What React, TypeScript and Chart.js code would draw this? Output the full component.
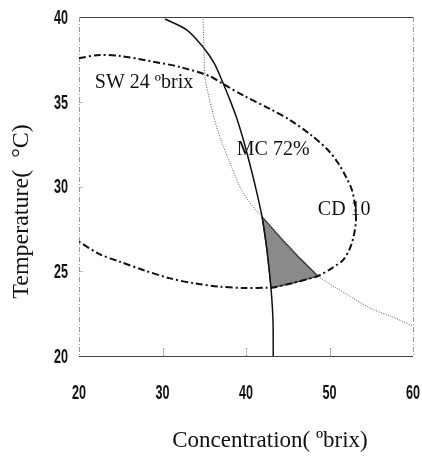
import React, { useEffect, useRef } from "react";
import { Chart, registerables } from "chart.js";
Chart.register(...registerables);

// Axis ticks
const xTicks = [20, 30, 40, 50, 60];
const yTicks = [20, 25, 30, 35, 40];

// MC 72% (solid)
const mcConc = [30.3, 32.93, 34.85, 36.17, 37.25, 38.08, 38.8, 39.52, 40.24, 41.08, 41.92, 42.51, 42.99, 43.23, 43.26];
const mcTemp = [39.88, 39.23, 38.23, 37.29, 36.11, 35.1, 34.16, 33.04, 31.74, 30.09, 28.22, 26.25, 24.01, 22.12, 20.0];

// CD 10 (dotted)
const cdConc = [34.85, 34.97, 35.09, 35.45, 35.93, 36.53, 37.13, 38.08, 39.28, 40.48, 41.92, 45.0, 48.62, 51.26, 54.85, 57.25, 60.0];
const cdTemp = [40.0, 38.05, 36.46, 35.52, 34.51, 33.45, 32.57, 31.39, 29.97, 29.03, 28.22, 26.4, 24.72, 23.89, 22.83, 22.36, 21.77];

// SW 24 obrix (dash-dot, closed contour)
const swConc = [20, 22.5, 24.9, 28.5, 32.1, 35.7, 37.25, 39.8, 42.9, 45.27, 47.78, 49.82, 51.02, 51.98, 52.69, 53.05, 53.17, 52.93, 52.46, 51.62, 50.3, 48.62, 47.07, 45.6, 43.0, 42.5, 39.9, 36.89, 33.9, 30.9, 27.9, 24.91, 22.5, 20];
const swTemp = [37.58, 37.76, 37.7, 37.4, 37.05, 36.5, 36.05, 35.34, 34.57, 33.92, 33.04, 32.15, 31.39, 30.56, 29.79, 28.91, 28.02, 27.14, 26.37, 25.66, 25.19, 24.72, 24.5, 24.3, 24.02, 24.03, 24.01, 24.09, 24.28, 24.58, 25.04, 25.56, 26.0, 26.74];

// Feasible (shaded) region
const shadeConc = [41.92, 42.51, 43.0, 45.6, 47.07, 48.62, 46.5, 44.2, 41.92];
const shadeTemp = [28.22, 26.25, 24.02, 24.3, 24.5, 24.72, 25.75, 26.95, 28.22];

// Curve labels (data coordinates of text baseline start)
const labelTexts = ["SW 24 ºbrix", "MC 72%", "CD 10"];
const labelConc = [21.9, 38.9, 48.6];
const labelTemp = [35.8, 31.86, 28.3];

const xTitle = "Concentration( ºbrix)";
const yTitle = "Temperature(  °C)";

const toPts = (xs: number[], ys: number[]) => xs.map((x, i) => ({ x, y: ys[i] }));

const serif = "'Liberation Serif', 'Times New Roman', serif";
const tickFont = "bold 21px 'Liberation Sans', Arial, sans-serif";
const squeeze = 0.6;

const overlay = {
  id: "overlay",
  beforeDatasetsDraw(chart: any) {
    const { ctx, chartArea } = chart;
    const { left, right, top, bottom } = chartArea;
    const xs = chart.scales.x;
    const ys = chart.scales.y;
    ctx.save();
    ctx.lineWidth = 1;
    ctx.strokeStyle = "#444";
    ctx.setLineDash([]);
    ctx.beginPath();
    ctx.moveTo(left, top + 0.5);
    ctx.lineTo(right, top + 0.5);
    ctx.moveTo(left, bottom + 0.5);
    ctx.lineTo(right, bottom + 0.5);
    ctx.stroke();
    ctx.strokeStyle = "#999";
    ctx.setLineDash([5, 2, 1, 2]);
    ctx.beginPath();
    ctx.moveTo(left + 0.5, top);
    ctx.lineTo(left + 0.5, bottom);
    ctx.moveTo(right + 0.5, top);
    ctx.lineTo(right + 0.5, bottom);
    ctx.stroke();
    ctx.setLineDash([2, 1]);
    ctx.beginPath();
    xTicks.slice(1, -1).forEach((v) => {
      const px = Math.round(xs.getPixelForValue(v)) + 0.5;
      ctx.moveTo(px, bottom);
      ctx.lineTo(px, bottom - 8);
    });
    yTicks.slice(1, -1).forEach((v) => {
      const py = Math.round(ys.getPixelForValue(v)) + 0.5;
      ctx.moveTo(left, py);
      ctx.lineTo(left + 4, py);
    });
    ctx.stroke();
    ctx.restore();
  },
  afterDatasetsDraw(chart: any) {
    const { ctx, chartArea } = chart;
    const xs = chart.scales.x;
    const ys = chart.scales.y;
    ctx.save();
    ctx.fillStyle = "#111";
    ctx.font = tickFont;
    ctx.textBaseline = "middle";
    ctx.textAlign = "center";
    xTicks.forEach((v) => {
      ctx.save();
      ctx.translate(xs.getPixelForValue(v), chartArea.bottom + 37);
      ctx.scale(squeeze, 1);
      ctx.fillText(String(v), 0, 0);
      ctx.restore();
    });
    ctx.textAlign = "right";
    yTicks.forEach((v) => {
      ctx.save();
      ctx.translate(chartArea.left - 11, ys.getPixelForValue(v) + 1);
      ctx.scale(squeeze, 1);
      ctx.fillText(String(v), 0, 0);
      ctx.restore();
    });
    ctx.font = `20px ${serif}`;
    ctx.textAlign = "left";
    ctx.textBaseline = "alphabetic";
    labelTexts.forEach((t, i) => {
      ctx.fillText(t, xs.getPixelForValue(labelConc[i]), ys.getPixelForValue(labelTemp[i]));
    });
    ctx.textAlign = "center";
    ctx.textBaseline = "middle";
    ctx.font = `23px ${serif}`;
    const cx = (chartArea.left + chartArea.right) / 2 + 24;
    ctx.fillText(xTitle, cx, chartArea.bottom + 85);
    ctx.font = `24px ${serif}`;
    ctx.translate(22, (chartArea.top + chartArea.bottom) / 2 + 25);
    ctx.rotate(-Math.PI / 2);
    ctx.fillText(yTitle, 0, 0);
    ctx.restore();
  },
};

export default function App() {
  const ref = useRef<HTMLCanvasElement>(null);
  useEffect(() => {
    if (!ref.current) return;
    const chart = new Chart(ref.current, {
      type: "scatter",
      data: {
        datasets: [
          {
            data: toPts(shadeConc, shadeTemp),
            showLine: true,
            fill: "shape" as any,
            backgroundColor: "#8a8a8a",
            borderColor: "#333",
            borderWidth: 1.2,
            pointRadius: 0,
            tension: 0,
            order: 10,
          },
          {
            data: toPts(swConc, swTemp),
            showLine: true,
            borderColor: "#111",
            borderWidth: 2,
            borderDash: [7, 3, 2, 3],
            pointRadius: 0,
            tension: 0.3,
            order: 1,
          },
          {
            data: toPts(cdConc, cdTemp),
            showLine: true,
            borderColor: "#555",
            borderWidth: 1,
            borderDash: [1, 1.5],
            pointRadius: 0,
            tension: 0.3,
            order: 1,
          },
          {
            data: toPts(mcConc, mcTemp),
            showLine: true,
            borderColor: "#111",
            borderWidth: 1.5,
            pointRadius: 0,
            tension: 0.3,
            order: 1,
          },
        ],
      },
      options: {
        animation: false,
        responsive: false,
        layout: { padding: { top: 17, right: 9, left: 0, bottom: 0 } },
        plugins: { legend: { display: false }, tooltip: { enabled: false } },
        scales: {
          x: {
            type: "linear",
            min: xTicks[0],
            max: xTicks[xTicks.length - 1],
            afterBuildTicks: (s: any) => {
              s.ticks = xTicks.map((v) => ({ value: v }));
            },
            afterFit: (s: any) => {
              s.height = 100;
              s.paddingLeft = 0;
              s.paddingRight = 0;
            },
            grid: { display: false, drawTicks: false },
            border: { display: false },
            ticks: { display: false },
          },
          y: {
            type: "linear",
            min: yTicks[0],
            max: yTicks[yTicks.length - 1],
            afterBuildTicks: (s: any) => {
              s.ticks = yTicks.map((v) => ({ value: v }));
            },
            afterFit: (s: any) => {
              s.width = 79;
              s.paddingTop = 0;
              s.paddingBottom = 0;
            },
            grid: { display: false, drawTicks: false },
            border: { display: false },
            ticks: { display: false },
          },
        },
      },
      plugins: [overlay],
    });
    return () => chart.destroy();
  }, []);
  return (
    <div style={{ position: "absolute", left: 0, top: 0, width: 422, height: 456, background: "#fff" }}>
      <canvas ref={ref} width={422} height={456} style={{ display: "block" }} />
    </div>
  );
}
